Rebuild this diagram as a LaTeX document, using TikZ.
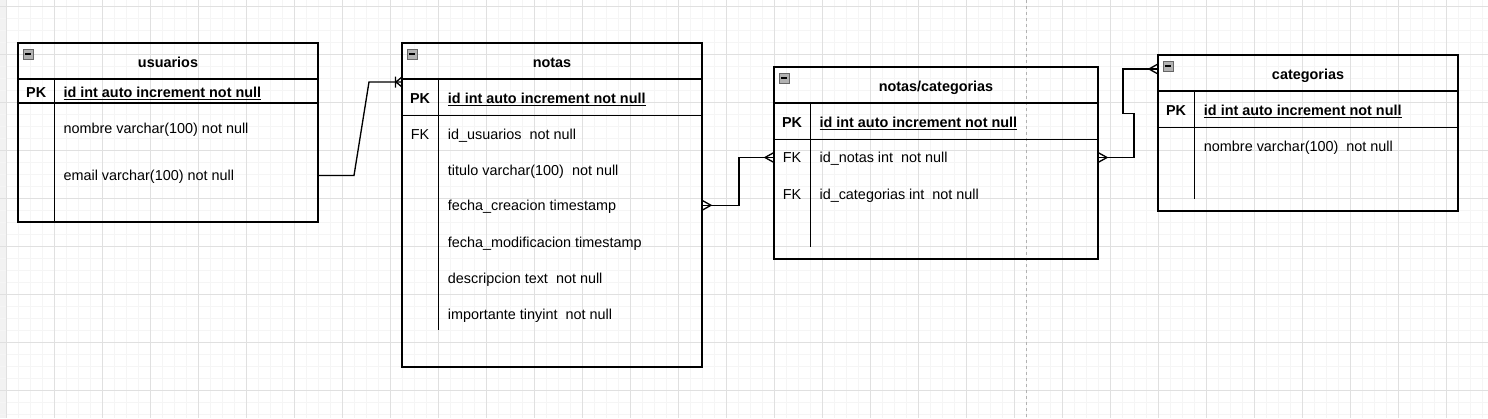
\documentclass[tikz,border=0pt]{standalone}
\usepackage{fontspec}
\setmainfont{Liberation Sans}
\usepackage{tikz}
\usetikzlibrary{positioning,calc,fit}
\newcommand\erfont{\fontsize{10.8}{13}\selectfont}
\tikzset{
  tbl/.style={draw,line width=1pt,inner sep=0pt,outer sep=0pt},
  txt/.style={inner sep=0pt,text height=9.5pt,text depth=2pt,font=\erfont},
  ttl/.style={txt,font=\erfont\bfseries},
  pklbl/.style={txt,font=\erfont\bfseries},
  fklbl/.style={txt},
  fld/.style={txt,anchor=west},
  pkfld/.style={fld,font=\erfont\bfseries},
  sepline/.style={line width=1pt},
  link/.style={line width=1pt},
  minorgrid/.style={line width=0.75pt,black!4},
  majorgrid/.style={line width=0.75pt,black!12},
  pageline/.style={line width=0.75pt,black!30,dash pattern=on 2.25pt off 2.25pt},
  crow/.pic={\draw[link] (0,-5) -- (-9,0) -- (0,5);},
  crowbar/.pic={\draw[link] (0,-5) -- (-6,0) -- (0,5) (-6.5,-5.5) -- (-6.5,5.5);},
  minus/.pic={\draw[fill=black!30,draw=black!60,line width=0.6pt] (0,0) rectangle (10,10);
    \draw[line width=1.1pt] (2,5) -- (8,5);}
}
\begin{document}
\begin{tikzpicture}[x=0.75pt,y=-0.75pt]
\fill[white] (0,0) rectangle (1488,418);
\useasboundingbox (0,0) rectangle (1488,418);
% canvas grid
\fill[black!5] (0,0) rectangle (5.5,418);
\foreach \gx in {6.3,18.3,...,1488} \draw[minorgrid] (\gx,0) -- (\gx,418);
\foreach \gy in {6.3,18.3,...,418} \draw[minorgrid] (0,\gy) -- (1488,\gy);
\foreach \gx in {6.3,54.3,...,1488} \draw[majorgrid] (\gx,0) -- (\gx,418);
\foreach \gy in {6.3,54.3,...,418} \draw[majorgrid] (0,\gy) -- (1488,\gy);
\draw[pageline] (1026.7,0) -- (1026.7,418);

% usuarios
\node[tbl,fit={(18,43) (318,222)}] (usuarios) {};
\draw[sepline] (18,79) -- (318,79) (18,103) -- (318,103) (54.3,79) -- (54.3,222);
\pic at ($(usuarios.north west)+(5,6)$) {minus};
\node[ttl] (u-title) at (168,62) {usuarios};
\node[pklbl] (u-pk) at (36.2,92) {PK};
\node[pkfld] (u-id) at (63.3,92) {\underline{id int auto increment not null}};
\node[fld] (u-nombre) at (63.3,128.7) {nombre varchar(100) not null};
\node[fld] (u-email) at (63.3,175.5) {email varchar(100) not null};

% notas
\node[tbl,fit={(402,43) (702,367)}] (notas) {};
\draw[sepline] (402,79) -- (702,79) (402,115.3) -- (702,115.3) (438.3,79) -- (438.3,330);
\pic at ($(notas.north west)+(5,6)$) {minus};
\node[ttl] (n-title) at (552,62) {notas};
\node[pklbl] (n-pk) at (420,98.3) {PK};
\node[pkfld] (n-id) at (447.7,98.3) {\underline{id int auto increment not null}};
\node[fklbl] (n-fk) at (420,134.3) {FK};
\node[fld] (n-usr) at (447.7,134.3) {id\_usuarios\ \ not null};
\node[fld] (n-titulo) at (447.7,170.3) {titulo varchar(100)\ \ not null};
\node[fld] (n-fcre) at (447.7,205.3) {fecha\_creacion timestamp};
\node[fld] (n-fmod) at (447.7,242.3) {fecha\_modificacion timestamp};
\node[fld] (n-desc) at (447.7,278.3) {descripcion text\ \ not null};
\node[fld] (n-imp) at (447.7,314.3) {importante tinyint\ \ not null};

% notas/categorias
\node[tbl,fit={(774,67) (1098,259)}] (nc) {};
\draw[sepline] (774,103) -- (1098,103) (774,139.3) -- (1098,139.3) (810.3,103) -- (810.3,247);
\pic at ($(nc.north west)+(5,6)$) {minus};
\node[ttl] (nc-title) at (936,86) {notas/categorias};
\node[pklbl] (nc-pk) at (792,122.3) {PK};
\node[pkfld] (nc-id) at (819.3,122.3) {\underline{id int auto increment not null}};
\node[fklbl] (nc-fk1) at (792,157.5) {FK};
\node[fld] (nc-notas) at (819.3,157.5) {id\_notas int\ \ not null};
\node[fklbl] (nc-fk2) at (792,194.3) {FK};
\node[fld] (nc-cat) at (819.3,194.3) {id\_categorias int\ \ not null};

% categorias
\node[tbl,fit={(1158,55) (1458,211)}] (categorias) {};
\draw[sepline] (1158,91) -- (1458,91) (1158,127.3) -- (1458,127.3) (1194.3,91) -- (1194.3,199);
\pic at ($(categorias.north west)+(5,6)$) {minus};
\node[ttl] (c-title) at (1308,74) {categorias};
\node[pklbl] (c-pk) at (1176,110.7) {PK};
\node[pkfld] (c-id) at (1203.7,110.7) {\underline{id int auto increment not null}};
\node[fld] (c-nombre) at (1203.7,146.7) {nombre varchar(100)\ \ not null};

% relations
\coordinate (n-in) at ($(notas.north west)+(0,39)$);
\coordinate (c-in) at ($(categorias.north west)+(0,14)$);
\draw[link] (usuarios.east |- u-email) -- ++(36,0) -- ($(n-in)+(-33,0)$) -- (n-in);
\pic at (n-in) {crowbar};
\draw[link] (notas.east |- n-fcre) -- ++(37,0) |- (nc.west |- nc-notas);
\pic[xscale=-1] at (notas.east |- n-fcre) {crow};
\pic at (nc.west |- nc-notas) {crow};
\draw[link] (nc.east |- nc-notas) -- ++(36,0) -- ++(0,-44) -- ++(-11,0) |- (c-in);
\pic[xscale=-1] at (nc.east |- nc-notas) {crow};
\pic at (c-in) {crow};
\end{tikzpicture}
\end{document}
